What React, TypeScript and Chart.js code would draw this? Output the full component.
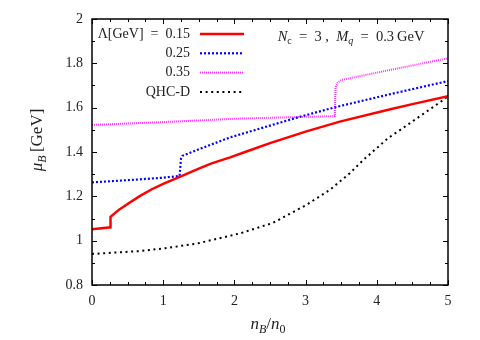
import React, { useEffect, useRef } from "react";
import { Chart, registerables } from "chart.js";

Chart.register(...registerables);

// ---- data ----
const redX = [0, 0.26, 0.26, 0.38, 0.51, 0.67, 0.84, 1.0, 1.24, 1.5, 1.68, 1.94, 2.15, 2.5, 3.0, 3.48, 4.19, 4.5, 5.0];
const redY = [1.051, 1.06, 1.108, 1.14, 1.168, 1.201, 1.232, 1.256, 1.289, 1.325, 1.349, 1.376, 1.4, 1.44, 1.492, 1.537, 1.593, 1.616, 1.652];

const blueX = [0, 0.6, 1.0, 1.23, 1.25, 1.27, 1.45, 1.94, 2.92, 3.44, 4.19, 5.0];
const blueY = [1.263, 1.275, 1.284, 1.292, 1.37, 1.383, 1.406, 1.466, 1.559, 1.604, 1.661, 1.72];

const magX = [0, 1.0, 2.08, 3.41, 3.42, 3.45, 3.5, 4.2, 5.0];
const magY = [1.522, 1.535, 1.551, 1.562, 1.69, 1.712, 1.725, 1.771, 1.823];

const qhcX = [0, 0.67, 1.03, 1.49, 2.08, 2.54, 3.01, 3.34, 3.62, 3.81, 4.16, 4.33, 4.6, 4.93, 5.0];
const qhcY = [0.94, 0.953, 0.966, 0.988, 1.033, 1.08, 1.161, 1.229, 1.304, 1.364, 1.463, 1.5, 1.56, 1.634, 1.652];

const seriesLabels = ["Λ[GeV] = 0.15", "0.25", "0.35", "QHC-D"];

const xTicks = [0, 1, 2, 3, 4, 5];
const xTickLabels = ["0", "1", "2", "3", "4", "5"];
const yTicks = [0.8, 1.0, 1.2, 1.4, 1.6, 1.8, 2.0];
const yTickLabels = ["0.8", "1", "1.2", "1.4", "1.6", "1.8", "2"];

const FONT = '"Liberation Serif", "DejaVu Serif", serif';
const TEXT = "#222";

type Part = { t: string; i?: boolean; sub?: boolean };

function drawRich(ctx: CanvasRenderingContext2D, parts: Part[], x: number, y: number, align: "left" | "center" | "right", size = 14) {
  const subSize = Math.round(size * 0.72);
  const fontFor = (p: Part) => `${p.i ? "italic " : ""}${p.sub ? subSize : size}px ${FONT}`;
  let w = 0;
  for (const p of parts) {
    ctx.font = fontFor(p);
    w += ctx.measureText(p.t).width;
  }
  let cx = align === "right" ? x - w : align === "center" ? x - w / 2 : x;
  ctx.textAlign = "left";
  ctx.textBaseline = "middle";
  for (const p of parts) {
    ctx.font = fontFor(p);
    ctx.fillText(p.t, cx, y + (p.sub ? size * 0.28 : 0));
    cx += ctx.measureText(p.t).width;
  }
}

const overlay = {
  id: "overlay",
  afterDraw(chart: any) {
    const { ctx, chartArea, scales } = chart;
    const { left, right, top, bottom } = chartArea;
    const xs = scales.x;
    const ys = scales.y;
    ctx.save();
    ctx.strokeStyle = "#000";
    ctx.lineWidth = 1;
    const seg = (a: number, b: number, c: number, d: number) => {
      ctx.beginPath();
      ctx.moveTo(a, b);
      ctx.lineTo(c, d);
      ctx.stroke();
    };
    // x ticks (minor every 0.25)
    for (let k = 0; k <= 20; k++) {
      const v = k * 0.25;
      const px = Math.round(xs.getPixelForValue(v)) + 0.5;
      const len = k % 4 === 0 ? 5 : 3;
      seg(px, bottom, px, bottom - len);
      seg(px, top, px, top + len);
    }
    // y ticks (minor every 0.1)
    for (let k = 0; k <= 12; k++) {
      const v = 0.8 + k * 0.1;
      const py = Math.round(ys.getPixelForValue(v)) + 0.5;
      const len = k % 2 === 0 ? 5 : 3;
      seg(left, py, left + len, py);
      seg(right, py, right - len, py);
    }
    // frame
    ctx.lineWidth = 1.5;
    ctx.strokeRect(left, top, right - left, bottom - top);

    // legend
    ctx.fillStyle = TEXT;
    chart.data.datasets.forEach((ds: any, i: number) => {
      const ry = top + 15 + i * 19.3;
      drawRich(ctx, [{ t: ds.label.replace(" = ", "\u2002=\u2002") }], left + 98, ry, "right");
      ctx.save();
      ctx.strokeStyle = ds.borderColor;
      ctx.lineWidth = ds.borderWidth;
      ctx.setLineDash(ds.borderDash || []);
      ctx.beginPath();
      ctx.moveTo(left + 108, ry);
      ctx.lineTo(left + 152, ry);
      ctx.stroke();
      ctx.restore();
    });

    // annotation
    drawRich(
      ctx,
      [
        { t: "N", i: true },
        { t: "c", sub: true },
        { t: "\u2002=\u20023 ,\u2002" },
        { t: "M", i: true },
        { t: "q", i: true, sub: true },
        { t: "\u2002=\u20020.3\u2009GeV" },
      ],
      351,
      37,
      "center",
      14.5
    );

    // axis titles
    drawRich(
      ctx,
      [{ t: "n", i: true }, { t: "B", i: true, sub: true }, { t: "/" }, { t: "n", i: true }, { t: "0", sub: true }],
      268,
      325,
      "center",
      17
    );
    ctx.save();
    ctx.translate(38, 140);
    ctx.rotate(-Math.PI / 2);
    drawRich(ctx, [{ t: "μ", i: true }, { t: "B", i: true, sub: true }, { t: "\u2009[GeV]" }], 0, 0, "center", 17);
    ctx.restore();
    ctx.restore();
  },
};

const toPts = (xs: number[], ys: number[]) => xs.map((x, i) => ({ x, y: ys[i] }));

export default function App() {
  const ref = useRef<HTMLCanvasElement | null>(null);
  useEffect(() => {
    if (!ref.current) return;
    const chart = new Chart(ref.current, {
      type: "line",
      data: {
        datasets: [
          { label: seriesLabels[0], data: toPts(redX, redY), borderColor: "#ff0000", borderWidth: 2.5, pointRadius: 0, borderDash: [] },
          { label: seriesLabels[1], data: toPts(blueX, blueY), borderColor: "#0000ff", borderWidth: 2.2, pointRadius: 0, borderDash: [2, 2] },
          { label: seriesLabels[2], data: toPts(magX, magY), borderColor: "#ff33ff", borderWidth: 2, pointRadius: 0, borderDash: [1, 1] },
          { label: seriesLabels[3], data: toPts(qhcX, qhcY), borderColor: "#000000", borderWidth: 2, pointRadius: 0, borderDash: [2, 3.6] },
        ] as any,
      },
      options: {
        animation: false,
        responsive: false,
        layout: { padding: { top: 19, right: 32, left: 0, bottom: 0 } },
        plugins: { legend: { display: false }, tooltip: { enabled: false } },
        elements: { line: { tension: 0, borderCapStyle: "butt" } },
        scales: {
          x: {
            type: "linear",
            min: 0,
            max: 5,
            grid: { display: false, drawTicks: false },
            border: { display: false },
            afterBuildTicks: (s: any) => {
              s.ticks = xTicks.map((v) => ({ value: v }));
            },
            afterFit: (s: any) => {
              s.height = 55;
            },
            ticks: {
              padding: 8,
              color: TEXT,
              font: { family: FONT, size: 14 },
              callback: (_v: any, i: number) => xTickLabels[i],
            },
          },
          y: {
            type: "linear",
            min: 0.8,
            max: 2,
            grid: { display: false, drawTicks: false },
            border: { display: false },
            afterBuildTicks: (s: any) => {
              s.ticks = yTicks.map((v) => ({ value: v }));
            },
            afterFit: (s: any) => {
              s.width = 92;
            },
            ticks: {
              padding: 9,
              color: TEXT,
              font: { family: FONT, size: 14 },
              callback: (_v: any, i: number) => yTickLabels[i],
            },
          },
        },
      } as any,
      plugins: [overlay],
    });
    return () => chart.destroy();
  }, []);
  return (
    <div style={{ position: "fixed", left: 0, top: 0, width: 480, height: 340, background: "#fff" }}>
      <canvas ref={ref} width={480} height={340} style={{ display: "block" }} />
    </div>
  );
}
